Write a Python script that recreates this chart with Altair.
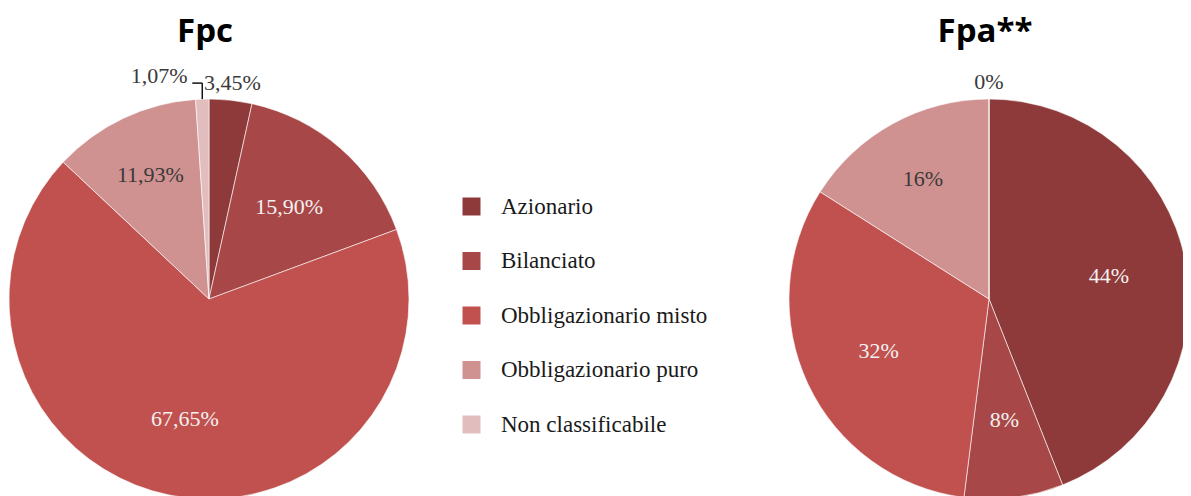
import altair as alt
import pandas as pd

categories = ["Azionario", "Bilanciato", "Obbligazionario misto",
              "Obbligazionario puro", "Non classificabile"]
colors = ["#8E3A3A", "#A84747", "#C0514E", "#D09191", "#E2BDBD"]

fpc_values = [3.45, 15.90, 67.65, 11.93, 1.07]
fpc_labels = ["3,45%", "15,90%", "67,65%", "11,93%", "1,07%"]
fpc_place = ["out_center", "in_white", "in_white", "in_dark", "out_left"]

fpa_values = [44, 8, 32, 16, 0]
fpa_labels = ["44%", "8%", "32%", "16%", "0%"]
fpa_place = ["in_white", "in_white", "in_white", "in_dark", "out_center"]

titles = ["Fpc", "Fpa**"]

SERIF = "Liberation Serif"
R = 200


def make_df(values, labels, place):
    rows = []
    for i, (c, v, l, p) in enumerate(zip(categories, values, labels, place)):
        rows.append({"cat": c, "ord": i, "val": v, "label": l, "place": p})
    return pd.DataFrame(rows)


def pie(df, cx, cy, title, show_legend):
    base = alt.Chart(df)
    enc_common = dict(
        theta=alt.Theta("val:Q", stack=True),
        order=alt.Order("ord:Q"),
    )
    legend = alt.Legend(
        orient="none", legendX=452, legendY=187, title=None,
        symbolType="square", symbolSize=324, symbolStrokeWidth=0,
        labelFont=SERIF, labelFontSize=23, labelColor="#1a1a1a",
        labelLimit=0, rowPadding=30.5, labelOffset=18, padding=0,
    ) if show_legend else None
    color = alt.Color("cat:N", scale=alt.Scale(domain=categories, range=colors),
                      sort=categories,
                      legend=legend)
    arcs = base.mark_arc(radius=R, stroke="white", strokeWidth=0.6).encode(
        x=alt.value(cx), y=alt.value(cy), color=color, **enc_common
    )
    layers = [arcs]

    def text_layer(kind, radius, fill, **kw):
        return base.transform_calculate(
            t=f"datum.place == '{kind}' ? datum.label : ''"
        ).mark_text(radius=radius, font=SERIF, fontSize=22, color=fill,
                    baseline="middle", **kw).encode(
            x=alt.value(cx), y=alt.value(cy), text="t:N", **enc_common
        )

    layers.append(text_layer("in_white", 122, "#f4f0f0"))
    layers.append(text_layer("in_dark", 137, "#3a3a3a"))
    layers.append(text_layer("out_center", 217, "#3a3a3a"))
    layers.append(text_layer("out_left", 218, "#3a3a3a", align="right", dx=-14, dy=-5))

    # leader line for the outside-left label, computed from the slice angle
    lead = base.transform_window(
        cum="sum(val)", sort=[alt.SortField("ord")]
    ).transform_filter("datum.place == 'out_left'").transform_calculate(
        mid="2*PI*(datum.cum - datum.val/2)/100",
    ).transform_calculate(
        px=f"{cx} + {R}*sin(datum.mid)",
        py=f"{cy} - {R}*cos(datum.mid)",
    ).transform_calculate(
        py2="datum.py - 16", px2="datum.px - 10"
    )
    v = lead.mark_rule(color="#111", strokeWidth=1.5).encode(
        x=alt.X("px:Q", scale=None, axis=None),
        y=alt.Y("py:Q", scale=None, axis=None),
        y2="py2:Q",
    )
    h = lead.mark_rule(color="#111", strokeWidth=1.5).encode(
        x=alt.X("px2:Q", scale=None, axis=None),
        x2="px:Q",
        y=alt.Y("py2:Q", scale=None, axis=None),
    )
    layers += [v, h]

    t = alt.Chart(pd.DataFrame({"title": [title]})).mark_text(
        font="Open Sans", fontWeight="bold", fontSize=33, color="#000",
        baseline="middle", align="center"
    ).encode(x=alt.value(cx - 4), y=alt.value(24), text="title:N")
    layers.append(t)
    return layers


layers = pie(make_df(fpc_values, fpc_labels, fpc_place), 201, 291, titles[0], True) + \
    pie(make_df(fpa_values, fpa_labels, fpa_place), 981, 291, titles[1], False)

chart = alt.layer(*layers).properties(
    width=1175, height=488,
    autosize=alt.AutoSizeParams(type="none"),
    padding=0,
).configure(
    background="white",
    view=alt.ViewConfig(strokeWidth=0, stroke="transparent"),
)

chart.save("out.html", embed_options={"renderer": "svg", "actions": False})
